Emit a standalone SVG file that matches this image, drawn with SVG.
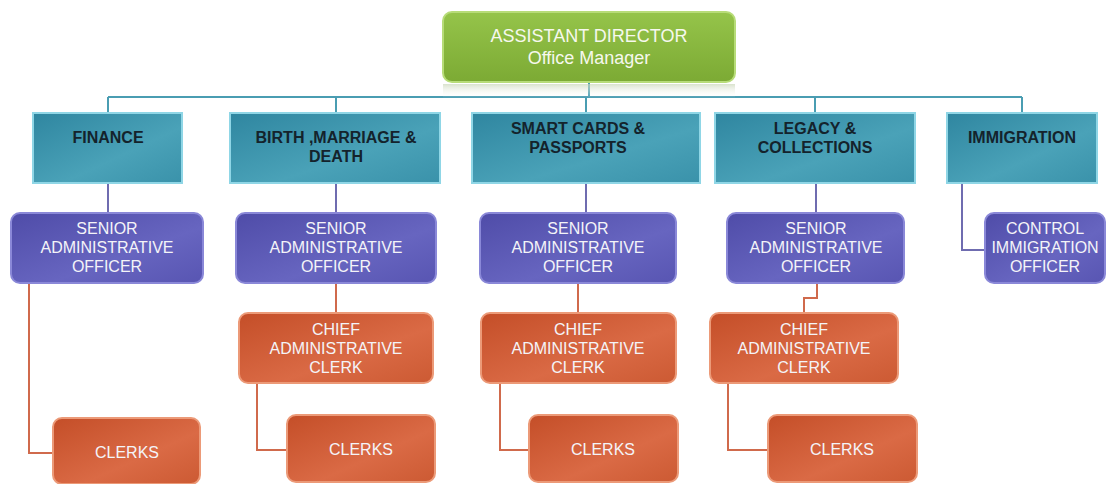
<svg xmlns="http://www.w3.org/2000/svg" width="1107" height="484" viewBox="0 0 1107 484">
<defs>
<linearGradient id="gGreen" x1="0" y1="0" x2="0" y2="1"><stop offset="0" stop-color="#95c44a"/><stop offset="1" stop-color="#7caa34"/></linearGradient>
<linearGradient id="gRefl" x1="0" y1="0" x2="0" y2="1"><stop offset="0" stop-color="#c9d6b8" stop-opacity="0.7"/><stop offset="1" stop-color="#ffffff" stop-opacity="0"/></linearGradient>
<linearGradient id="gTeal" x1="0" y1="0" x2="1" y2="1"><stop offset="0" stop-color="#2f86a0"/><stop offset="0.6" stop-color="#4aa2b8"/><stop offset="1" stop-color="#3a92aa"/></linearGradient>
<linearGradient id="gPurple" x1="0" y1="0" x2="1" y2="1"><stop offset="0" stop-color="#4f4ca8"/><stop offset="0.6" stop-color="#6765c0"/><stop offset="1" stop-color="#5855b2"/></linearGradient>
<linearGradient id="gOrange" x1="0" y1="0" x2="1" y2="1"><stop offset="0" stop-color="#c44e28"/><stop offset="0.6" stop-color="#da6a45"/><stop offset="1" stop-color="#cc5a33"/></linearGradient>
</defs>
<style>
.top{fill:url(#gGreen);stroke:#b7dc78;stroke-width:2}
.dept{fill:url(#gTeal);stroke:#8fd6e6;stroke-width:2}
.sao{fill:url(#gPurple);stroke:#8a88d8;stroke-width:2}
.clk{fill:url(#gOrange);stroke:#ec9a78;stroke-width:2}
.wt{font-family:"Liberation Sans",Arial,sans-serif;fill:#f4f4f8;font-size:16px;text-anchor:middle}
.tt{font-family:"Liberation Sans",Arial,sans-serif;fill:#f6f8ee;font-size:18px;text-anchor:middle}
.dt{font-family:"Liberation Sans",Arial,sans-serif;fill:#14232c;font-size:16px;font-weight:bold;text-anchor:middle}
.cT{fill:none;stroke:#4a9db2;stroke-width:2}
.cP{fill:none;stroke:#6f6cb0;stroke-width:2}
.cO{fill:none;stroke:#d06a4c;stroke-width:2}
</style>
<g id="connectors">
<path class="cT" d="M589 82V97M108 97H1022M108 97V113M336 97V113M586 97V113M815 97V113M1022 97V113"/>
<path class="cP" d="M108 183V213M336 183V213M586 183V213M816 183V213M962 183V250H985"/>
<path class="cO" d="M29 283V453H53M336 283V313M578 283V313M817 283V298H804V313M257 383V450H287M500 383V450H529M728 383V450H768"/>
</g>
<g id="assistant-director">
<rect x="443" y="84" width="292" height="14" fill="url(#gRefl)"/>
<rect class="top" x="443" y="12" width="292" height="70" rx="9"/>
<text class="tt" x="589" y="42">ASSISTANT DIRECTOR</text>
<text class="tt" x="589" y="64">Office Manager</text>
</g>
<g id="finance">
<rect class="dept" x="33" y="113" width="149" height="70"/>
<text class="dt" x="108" y="143">FINANCE</text>
</g>
<g id="birth">
<rect class="dept" x="230" y="113" width="210" height="70"/>
<text class="dt" x="336" y="143">BIRTH ,MARRIAGE &amp;</text>
<text class="dt" x="336" y="162">DEATH</text>
</g>
<g id="smart">
<rect class="dept" x="472" y="113" width="228" height="70"/>
<text class="dt" x="578" y="134">SMART CARDS &amp;</text>
<text class="dt" x="578" y="153">PASSPORTS</text>
</g>
<g id="legacy">
<rect class="dept" x="715" y="113" width="200" height="70"/>
<text class="dt" x="815" y="134">LEGACY &amp;</text>
<text class="dt" x="815" y="153">COLLECTIONS</text>
</g>
<g id="immigration">
<rect class="dept" x="947" y="113" width="150" height="70"/>
<text class="dt" x="1022" y="143">IMMIGRATION</text>
</g>
<g id="sao-finance">
<rect class="sao" x="11" y="213" width="192" height="70" rx="9"/>
<text class="wt" x="107" y="234">SENIOR</text><text class="wt" x="107" y="253">ADMINISTRATIVE</text><text class="wt" x="107" y="272">OFFICER</text>
</g>
<g id="sao-birth">
<rect class="sao" x="236" y="213" width="200" height="70" rx="9"/>
<text class="wt" x="336" y="234">SENIOR</text><text class="wt" x="336" y="253">ADMINISTRATIVE</text><text class="wt" x="336" y="272">OFFICER</text>
</g>
<g id="sao-smart">
<rect class="sao" x="480" y="213" width="196" height="70" rx="9"/>
<text class="wt" x="578" y="234">SENIOR</text><text class="wt" x="578" y="253">ADMINISTRATIVE</text><text class="wt" x="578" y="272">OFFICER</text>
</g>
<g id="sao-legacy">
<rect class="sao" x="727" y="213" width="177" height="70" rx="9"/>
<text class="wt" x="816" y="234">SENIOR</text><text class="wt" x="816" y="253">ADMINISTRATIVE</text><text class="wt" x="816" y="272">OFFICER</text>
</g>
<g id="cio">
<rect class="sao" x="985" y="213" width="120" height="70" rx="9"/>
<text class="wt" x="1045" y="234">CONTROL</text><text class="wt" x="1045" y="253">IMMIGRATION</text><text class="wt" x="1045" y="272">OFFICER</text>
</g>
<g id="cac-birth">
<rect class="clk" x="239" y="313" width="194" height="70" rx="9"/>
<text class="wt" x="336" y="335">CHIEF</text><text class="wt" x="336" y="354">ADMINISTRATIVE</text><text class="wt" x="336" y="373">CLERK</text>
</g>
<g id="cac-smart">
<rect class="clk" x="481" y="313" width="195" height="70" rx="9"/>
<text class="wt" x="578" y="335">CHIEF</text><text class="wt" x="578" y="354">ADMINISTRATIVE</text><text class="wt" x="578" y="373">CLERK</text>
</g>
<g id="cac-legacy">
<rect class="clk" x="710" y="313" width="188" height="70" rx="9"/>
<text class="wt" x="804" y="335">CHIEF</text><text class="wt" x="804" y="354">ADMINISTRATIVE</text><text class="wt" x="804" y="373">CLERK</text>
</g>
<g id="clerks-finance">
<rect class="clk" x="53" y="418" width="147" height="66" rx="9"/>
<text class="wt" x="127" y="458">CLERKS</text>
</g>
<g id="clerks-birth">
<rect class="clk" x="287" y="415" width="148" height="67" rx="9"/>
<text class="wt" x="361" y="455">CLERKS</text>
</g>
<g id="clerks-smart">
<rect class="clk" x="529" y="415" width="149" height="67" rx="9"/>
<text class="wt" x="603" y="455">CLERKS</text>
</g>
<g id="clerks-legacy">
<rect class="clk" x="768" y="415" width="149" height="67" rx="9"/>
<text class="wt" x="842" y="455">CLERKS</text>
</g>
</svg>
